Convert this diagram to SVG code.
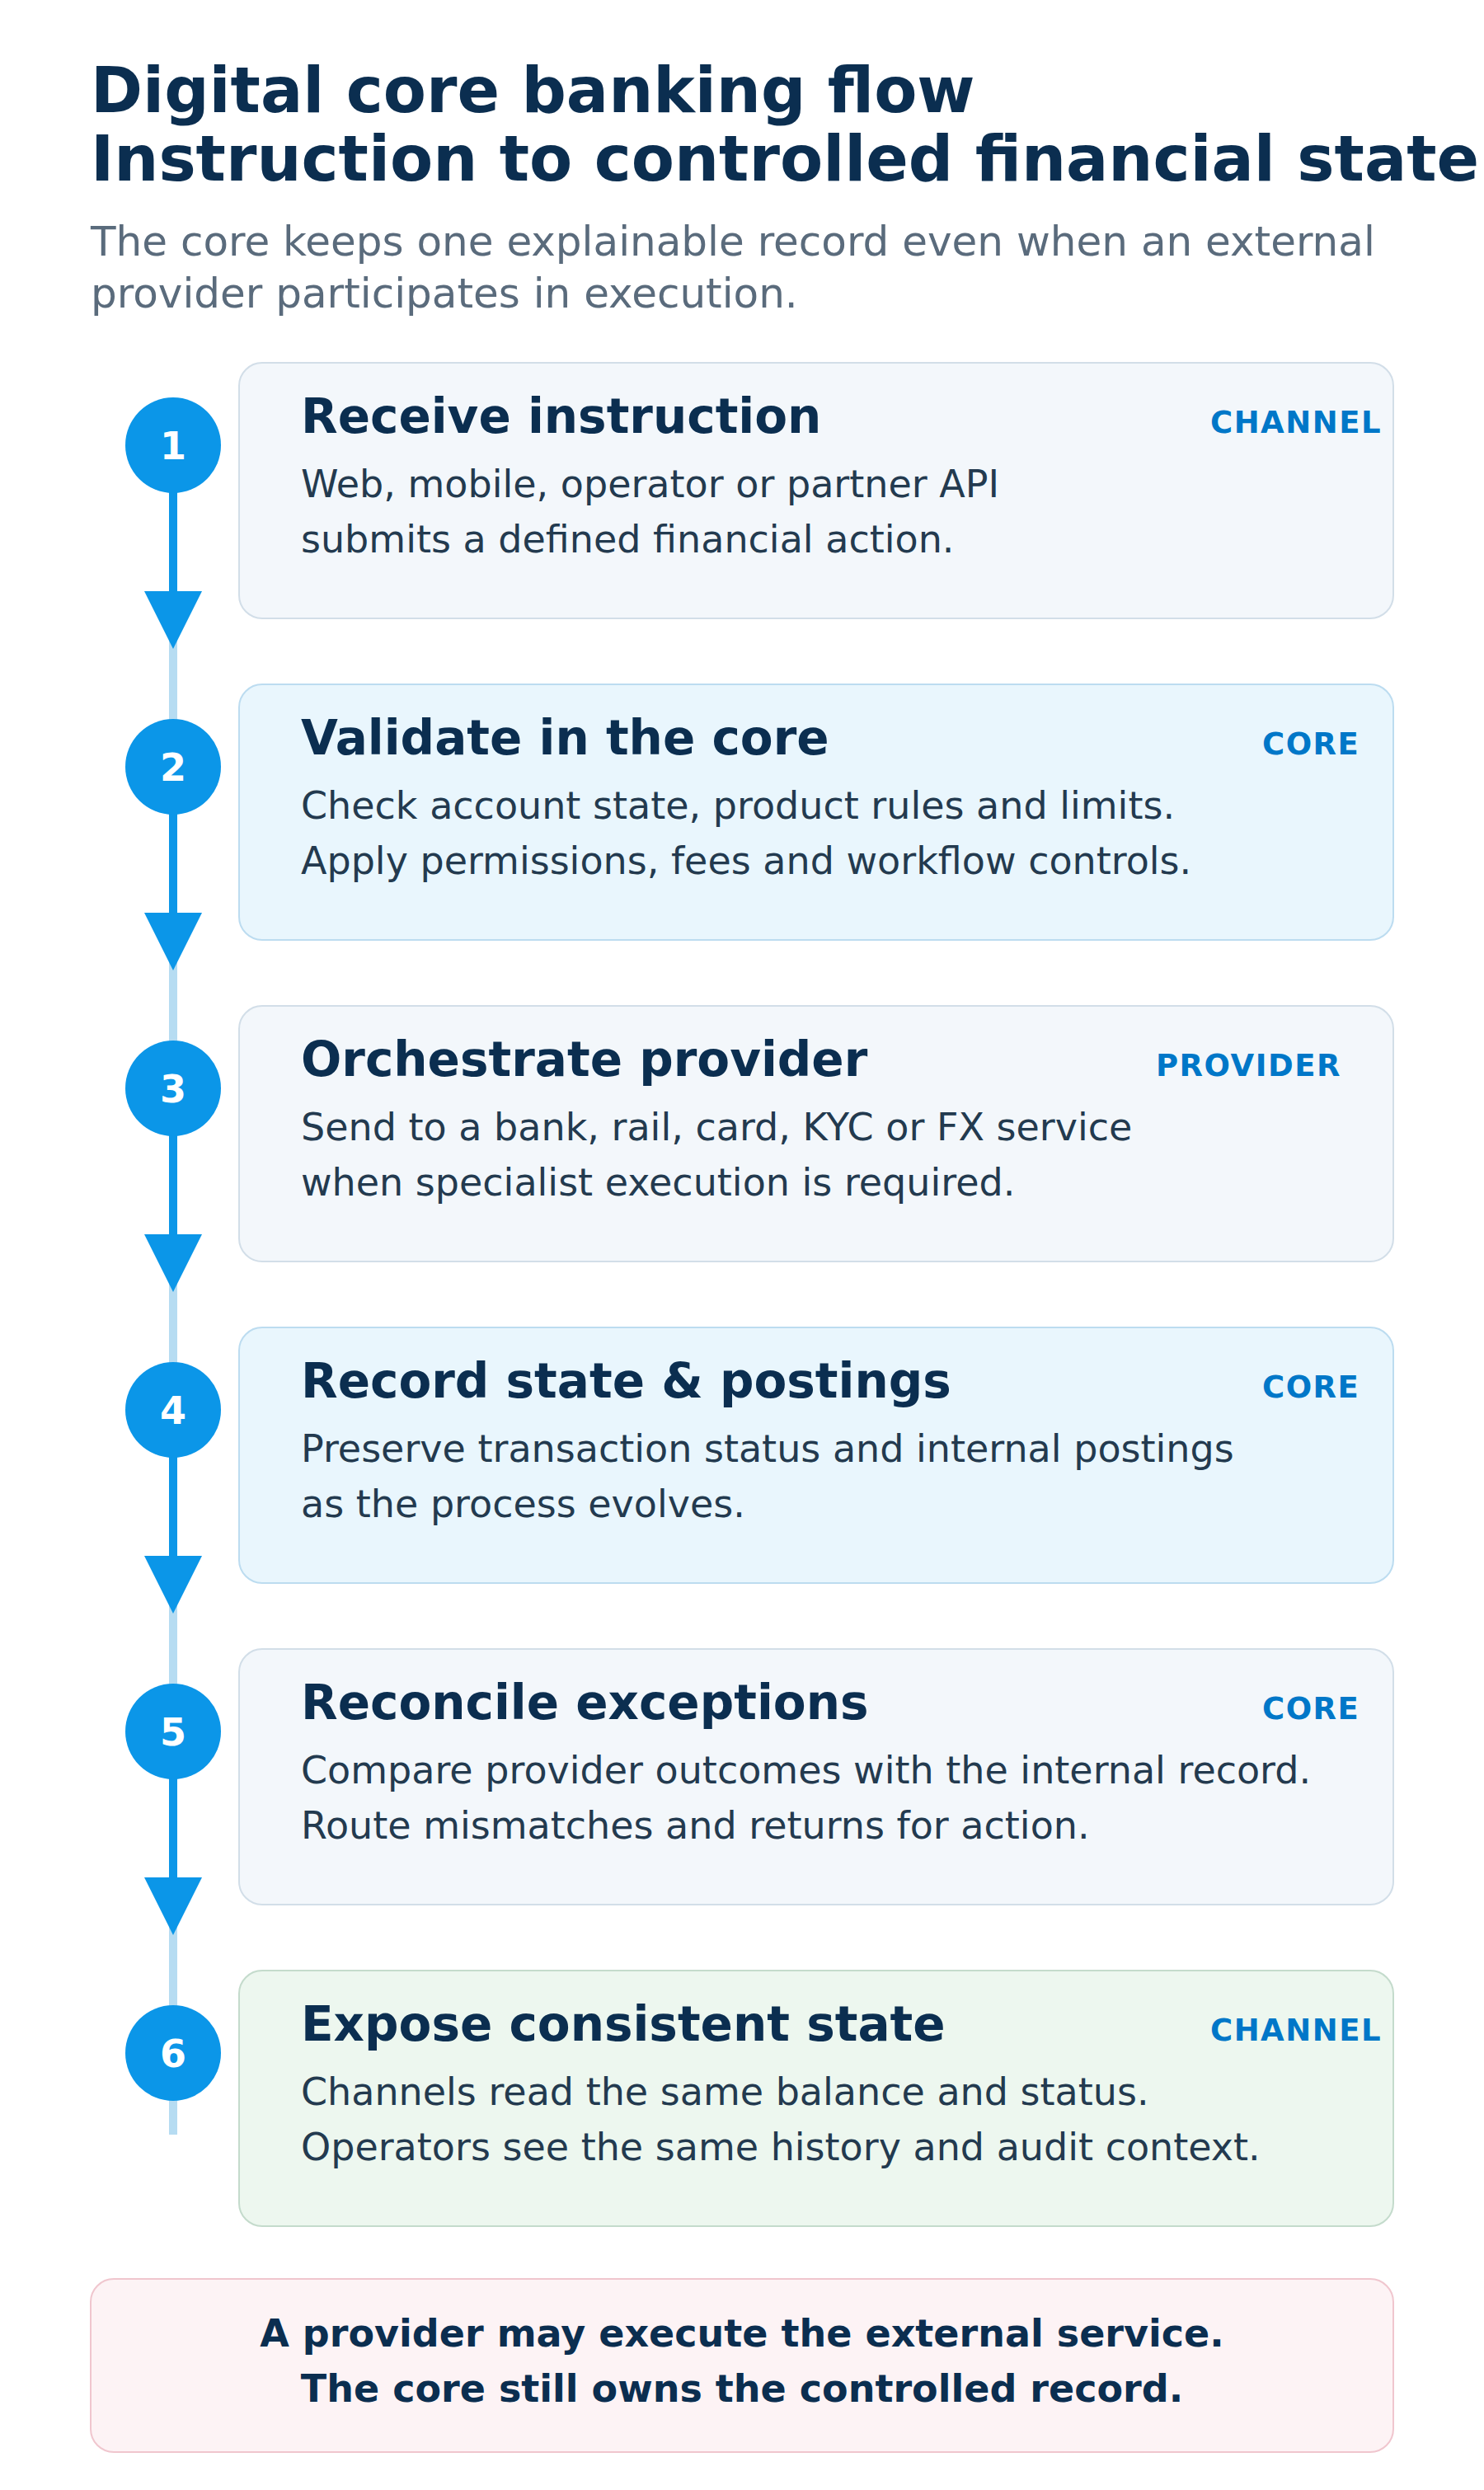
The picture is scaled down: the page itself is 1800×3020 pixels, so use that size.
<svg xmlns="http://www.w3.org/2000/svg" width="1800" height="3020" viewBox="0 0 1800 3020">
<defs>
<style>
text{font-family:"DejaVu Sans","Liberation Sans",sans-serif}
.h1{font-size:76px;font-weight:bold;fill:#0b2e50}
.sub{font-size:50px;fill:#5a6b7c}
.card{stroke-width:2}
.c-grey{fill:#f3f7fb;stroke:#d2dee8}
.c-blue{fill:#e9f6fd;stroke:#bcdcf0}
.c-green{fill:#edf7ef;stroke:#c4dbcc}
.ttl{font-size:58px;font-weight:bold;fill:#0b2e50}
.body{font-size:46px;fill:#233a4f}
.tag{font-size:37px;font-weight:bold;fill:#0077c8;letter-spacing:1.5px}
.dot{fill:#0b96e8}
.num{font-size:46px;font-weight:bold;fill:#ffffff;text-anchor:middle}
.track{stroke:#b6dcf2;stroke-width:10;fill:none}
.line{stroke:#0b96e8;stroke-width:10;fill:none}
.head{fill:#0b96e8}
.note{fill:#fdf3f5;stroke:#f0c6ce;stroke-width:2}
.notet{font-size:46px;font-weight:bold;fill:#0b2e50;text-anchor:middle}
</style>
</defs>
<rect width="1800" height="3020" fill="#ffffff"/>
<g id="header">
<text class="h1" x="110" y="136">Digital core banking flow</text>
<text class="h1" x="110" y="219">Instruction to controlled financial state</text>
<text class="sub" x="110" y="310">The core keeps one explainable record even when an external</text>
<text class="sub" x="110" y="373">provider participates in execution.</text>
</g>
<g id="connectors">
<line class="track" x1="210" y1="540" x2="210" y2="2589"/>
<line class="line" x1="210" y1="596" x2="210" y2="720"/>
<polygon class="head" points="175,717 245,717 210,787"/>
<line class="line" x1="210" y1="986" x2="210" y2="1110"/>
<polygon class="head" points="175,1107 245,1107 210,1177"/>
<line class="line" x1="210" y1="1376" x2="210" y2="1500"/>
<polygon class="head" points="175,1497 245,1497 210,1567"/>
<line class="line" x1="210" y1="1766" x2="210" y2="1890"/>
<polygon class="head" points="175,1887 245,1887 210,1957"/>
<line class="line" x1="210" y1="2156" x2="210" y2="2280"/>
<polygon class="head" points="175,2277 245,2277 210,2347"/>
</g>
<g id="step1">
<rect class="card c-grey" x="290" y="440" width="1400" height="310" rx="28"/>
<circle class="dot" cx="210" cy="540" r="58"/>
<text class="num" x="210" y="557">1</text>
<text class="ttl" x="365" y="525">Receive instruction</text>
<text class="tag" x="1468" y="525">CHANNEL</text>
<text class="body" x="365" y="603">Web, mobile, operator or partner API</text>
<text class="body" x="365" y="670">submits a defined financial action.</text>
</g>
<g id="step2">
<rect class="card c-blue" x="290" y="830" width="1400" height="310" rx="28"/>
<circle class="dot" cx="210" cy="930" r="58"/>
<text class="num" x="210" y="947">2</text>
<text class="ttl" x="365" y="915">Validate in the core</text>
<text class="tag" x="1531" y="915">CORE</text>
<text class="body" x="365" y="993">Check account state, product rules and limits.</text>
<text class="body" x="365" y="1060">Apply permissions, fees and workflow controls.</text>
</g>
<g id="step3">
<rect class="card c-grey" x="290" y="1220" width="1400" height="310" rx="28"/>
<circle class="dot" cx="210" cy="1320" r="58"/>
<text class="num" x="210" y="1337">3</text>
<text class="ttl" x="365" y="1305">Orchestrate provider</text>
<text class="tag" x="1402" y="1305">PROVIDER</text>
<text class="body" x="365" y="1383">Send to a bank, rail, card, KYC or FX service</text>
<text class="body" x="365" y="1450">when specialist execution is required.</text>
</g>
<g id="step4">
<rect class="card c-blue" x="290" y="1610" width="1400" height="310" rx="28"/>
<circle class="dot" cx="210" cy="1710" r="58"/>
<text class="num" x="210" y="1727">4</text>
<text class="ttl" x="365" y="1695">Record state &amp; postings</text>
<text class="tag" x="1531" y="1695">CORE</text>
<text class="body" x="365" y="1773">Preserve transaction status and internal postings</text>
<text class="body" x="365" y="1840">as the process evolves.</text>
</g>
<g id="step5">
<rect class="card c-grey" x="290" y="2000" width="1400" height="310" rx="28"/>
<circle class="dot" cx="210" cy="2100" r="58"/>
<text class="num" x="210" y="2117">5</text>
<text class="ttl" x="365" y="2085">Reconcile exceptions</text>
<text class="tag" x="1531" y="2085">CORE</text>
<text class="body" x="365" y="2163">Compare provider outcomes with the internal record.</text>
<text class="body" x="365" y="2230">Route mismatches and returns for action.</text>
</g>
<g id="step6">
<rect class="card c-green" x="290" y="2390" width="1400" height="310" rx="28"/>
<circle class="dot" cx="210" cy="2490" r="58"/>
<text class="num" x="210" y="2507">6</text>
<text class="ttl" x="365" y="2475">Expose consistent state</text>
<text class="tag" x="1468" y="2475">CHANNEL</text>
<text class="body" x="365" y="2553">Channels read the same balance and status.</text>
<text class="body" x="365" y="2620">Operators see the same history and audit context.</text>
</g>
<g id="note">
<rect class="note" x="110" y="2764" width="1580" height="210" rx="28"/>
<text class="notet" x="900" y="2846">A provider may execute the external service.</text>
<text class="notet" x="900" y="2913">The core still owns the controlled record.</text>
</g>
</svg>
